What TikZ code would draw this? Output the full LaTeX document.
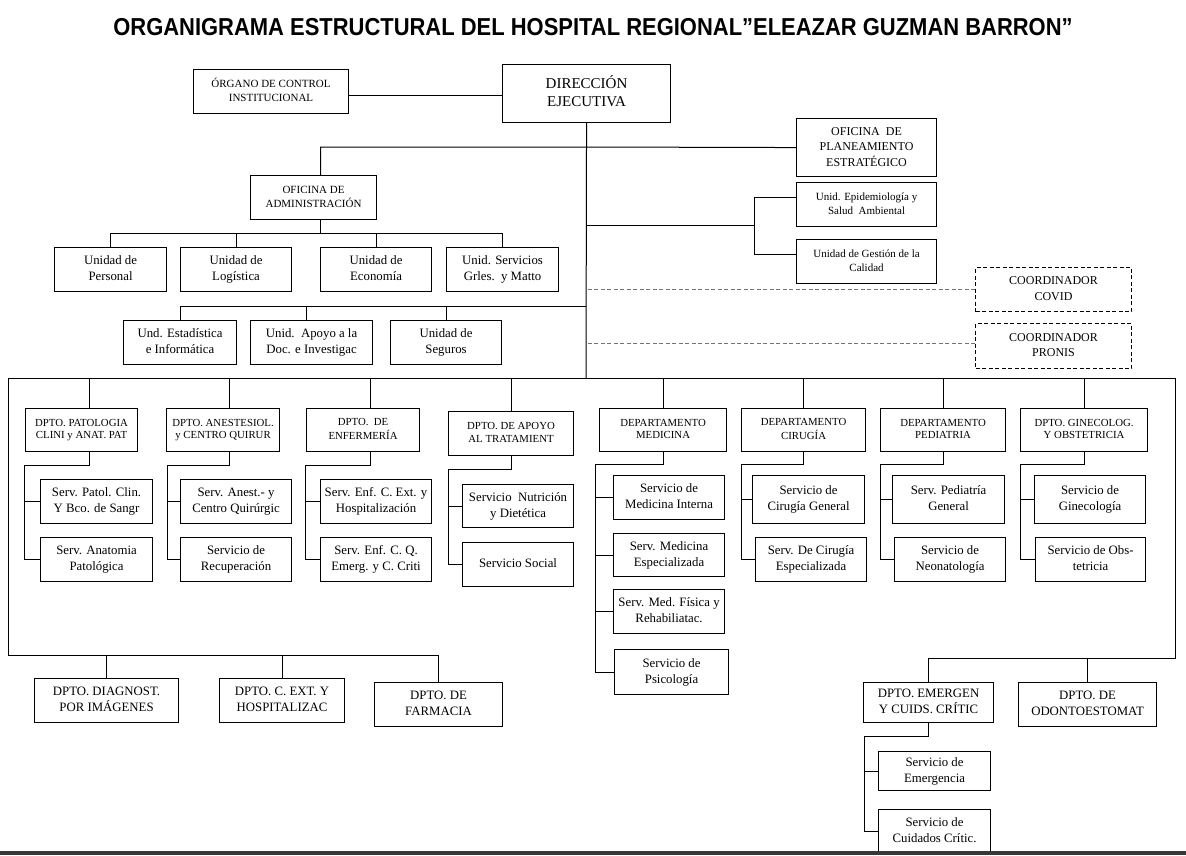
\documentclass[tikz,border=0pt]{standalone}
\usepackage{fontspec}
\setmainfont{Liberation Serif}
\newfontfamily\titlefont{Liberation Sans}
\newcommand\bx[7]{\node[box,#6,minimum width=#4pt,minimum height=#5pt] (#1) at (#2,#3) {\strut #7\strut};}
\begin{document}
\begin{tikzpicture}[x=1pt,y=-1pt,
  box/.style={draw, line width=1.1pt, inner sep=1pt, align=center, anchor=north west},
  dbox/.style={dash pattern=on 4pt off 2.5pt},
  ln/.style={line width=1pt},
  dl/.style={line width=1pt, black!55, dash pattern=on 4pt off 2.5pt},
  fA/.style={font=\fontsize{10.8}{12.5}\selectfont},
  fB/.style={font=\fontsize{11}{14}\selectfont},
  fC/.style={font=\fontsize{12.8}{16}\selectfont},
  fD/.style={font=\fontsize{12}{15.5}\selectfont},
  fE/.style={font=\fontsize{15}{17.5}\selectfont}]
\fill[white] (0,0) rectangle (1186,855);
\useasboundingbox (0,0) rectangle (1186,855);

\node[font=\titlefont\bfseries\fontsize{24.5}{29}\selectfont] (title) at (593,27) {\scalebox{0.896}[1]{ORGANIGRAMA ESTRUCTURAL DEL HOSPITAL REGIONAL”ELEAZAR GUZMAN BARRON”}};

% top
\bx{org}{193}{69}{155}{44}{fB}{ÓRGANO DE CONTROL\\INSTITUCIONAL}
\bx{dir}{502}{64}{168}{58}{fE}{DIRECCIÓN\\EJECUTIVA}
\bx{plan}{796}{118}{140}{58}{fD}{OFICINA~~DE\\PLANEAMIENTO\\ESTRATÉGICO}
\bx{epi}{796}{182}{140}{44}{fB}{Unid. Epidemiología y\\Salud~~Ambiental}
\bx{cal}{796}{239}{140}{44}{fB}{Unidad de Gestión de la\\Calidad}
\bx{covid}{975}{267}{156}{44}{fD,dbox}{COORDINADOR\\COVID}
\bx{pronis}{975}{323}{156}{45}{fD,dbox}{COORDINADOR\\PRONIS}
\bx{adm}{250}{175}{126}{44}{fB}{OFICINA DE\\ADMINISTRACIÓN}
\bx{u1}{54}{247}{112}{44}{fC}{Unidad de\\Personal}
\bx{u2}{180}{247}{111}{44}{fC}{Unidad de\\Logística}
\bx{u3}{320}{247}{111}{44}{fC}{Unidad de\\Economía}
\bx{u4}{446}{247}{112}{44}{fC}{Unid. Servicios\\Grles.~~y Matto}
\bx{e1}{123}{320}{113}{44}{fC}{Und. Estadística\\e Informática}
\bx{e2}{250}{320}{122}{44}{fC}{Unid.~~Apoyo a la\\Doc. e Investigac}
\bx{e3}{390}{320}{111}{44}{fC}{Unidad de\\Seguros}

% departments
\bx{d1}{25}{408}{112}{43}{fA}{DPTO. PATOLOGIA\\CLINI y ANAT. PAT}
\bx{d2}{166}{408}{113}{43}{fA}{DPTO. ANESTESIOL.\\y CENTRO QUIRUR}
\bx{d3}{306}{408}{113}{43}{fA}{DPTO.~~DE\\ENFERMERÍA}
\bx{d4}{448}{411}{125}{44}{fA}{DPTO. DE APOYO\\AL TRATAMIENT}
\bx{d5}{599}{408}{127}{43}{fA}{DEPARTAMENTO\\MEDICINA}
\bx{d6}{741}{408}{124}{43}{fA}{DEPARTAMENTO\\CIRUGÍA}
\bx{d7}{880}{408}{125}{43}{fA}{DEPARTAMENTO\\PEDIATRIA}
\bx{d8}{1020}{408}{127}{43}{fA}{DPTO. GINECOLOG.\\Y OBSTETRICIA}

% services
\bx{s11}{40}{479}{112}{44}{fC}{Serv. Patol. Clin.\\Y Bco. de Sangr}
\bx{s12}{40}{537}{112}{44}{fC}{Serv. Anatomia\\Patológica}
\bx{s21}{180}{479}{111}{44}{fC}{Serv. Anest.- y\\Centro Quirúrgic}
\bx{s22}{180}{537}{111}{44}{fC}{Servicio de\\Recuperación}
\bx{s31}{320}{479}{111}{44}{fC}{Serv. Enf. C. Ext. y\\Hospitalización}
\bx{s32}{320}{537}{111}{44}{fC}{Serv. Enf. C. Q.\\Emerg. y C. Criti}
\bx{s41}{462}{484}{111}{43}{fC}{Servicio~~Nutrición\\y Dietética}
\bx{s42}{462}{542}{111}{44}{fC}{Servicio Social}
\bx{s51}{613}{475}{111}{44}{fC}{Servicio de\\Medicina Interna}
\bx{s52}{613}{533}{111}{43}{fC}{Serv. Medicina\\Especializada}
\bx{s53}{613}{589}{111}{44}{fC}{Serv. Med. Física y\\Rehabiliatac.}
\bx{s54}{614}{649}{114}{45}{fC}{Servicio de\\Psicología}
\bx{s61}{752}{475}{112}{48}{fC}{Servicio de\\Cirugía General}
\bx{s62}{755}{537}{111}{44}{fC}{Serv. De Cirugía\\Especializada}
\bx{s71}{892}{475}{112}{48}{fC}{Serv. Pediatría\\General}
\bx{s72}{894}{537}{111}{44}{fC}{Servicio de\\Neonatología}
\bx{s81}{1034}{475}{111}{48}{fC}{Servicio de\\Ginecología}
\bx{s82}{1035}{537}{110}{44}{fC}{Servicio de Obs-\\tetricia}

% bottom
\bx{b1}{34}{678}{144}{44}{fC}{DPTO. DIAGNOST.\\POR IMÁGENES}
\bx{b2}{219}{678}{125}{44}{fC}{DPTO. C. EXT. Y\\HOSPITALIZAC}
\bx{b3}{374}{682}{128}{44}{fC}{DPTO. DE\\FARMACIA}
\bx{b4}{863}{682}{130}{40}{fC}{DPTO. EMERGEN\\Y CUIDS. CRÍTIC}
\bx{b5}{1018}{682}{138}{44}{fC}{DPTO. DE\\ODONTOESTOMAT}
\bx{s91}{878}{751}{112}{39}{fC}{Servicio de\\Emergencia}
\bx{s92}{878}{809}{112}{44}{fC}{Servicio de\\Cuidados Crític.}

% connectors top
\draw[ln] ([yshift=-4pt]org.east) -- ([yshift=-4pt]org.east -| dir.west);
\coordinate (mvb) at (586,378);
\draw[ln] (dir.south) -- (mvb);
\coordinate (h1) at (586,147);
\draw[ln] ([xshift=7pt]adm.north) |- (h1) -- (plan.west);
\coordinate (ub) at (0,233);
\draw[ln] ([xshift=7pt]adm.south) -- ([xshift=7pt]adm.south |- ub);
\draw[ln] (u1.north) -- (u1.north |- ub) -- (u4.north |- ub) -- (u4.north);
\draw[ln] (u2.north) -- (u2.north |- ub);
\draw[ln] (u3.north) -- (u3.north |- ub);
\coordinate (eb) at (586,306);
\draw[ln] (e1.north) |- (eb);
\draw[ln] ([xshift=-5pt]e2.north) -- ([xshift=-5pt]e2.north |- eb);
\draw[ln] (e3.north) -- (e3.north |- eb);
\coordinate (h2) at (586,225);
\coordinate (brk) at (754,225);
\draw[ln] (h2) -- (brk);
\draw[ln] ([yshift=7pt]epi.west) -- ([yshift=7pt]epi.west -| brk) -- ([yshift=7pt]cal.west -| brk) -- ([yshift=7pt]cal.west);
\draw[dl] (covid.west) -- (covid.west -| mvb);
\draw[dl] ([yshift=3pt]pronis.west) -- ([yshift=3pt]pronis.west -| mvb);

% big frame
\coordinate (tl) at (8,378);
\coordinate (tr) at (1175,378);
\coordinate (bl) at (8,655);
\coordinate (bR) at (1175,658);
\draw[ln] (b3.north) -- (b3.north |- bl) -- (bl) -- (tl) -- (tr) -- (bR) -- (bR -| b4.north) -- (b4.north);
\draw[ln] (b1.north) -- (b1.north |- bl);
\draw[ln] (b2.north) -- (b2.north |- bl);
\draw[ln] (b5.north) -- (b5.north |- bR);
\draw[ln] ([xshift=8pt]d1.north) -- ([xshift=8pt]d1.north |- tl);
\draw[ln] ([xshift=6.4pt]d2.north) -- ([xshift=6.4pt]d2.north |- tl);
\draw[ln] ([xshift=7pt]d3.north) -- ([xshift=7pt]d3.north |- tl);
\foreach \d in {d4,d5,d6,d7,d8} {\draw[ln] (\d.north) -- (\d.north |- tl);}

% sub brackets
\coordinate (k1) at (24,465);
\draw[ln] ([xshift=8pt]d1.south) |- (k1) |- (s12.west);
\draw[ln] (k1 |- s11.west) -- (s11.west);
\coordinate (k2) at (167.6,465);
\draw[ln] ([xshift=6.4pt]d2.south) |- (k2) |- (s22.west);
\draw[ln] (k2 |- s21.west) -- (s21.west);
\coordinate (k3) at (305,465);
\draw[ln] ([xshift=7pt]d3.south) |- (k3) |- (s32.west);
\draw[ln] (k3 |- s31.west) -- (s31.west);
\coordinate (k4) at (448,469);
\draw[ln] (d4.south) |- (k4) |- (s42.west);
\draw[ln] (k4 |- s41.west) -- (s41.west);
\coordinate (k5) at (595,464);
\draw[ln] (d5.south) |- (k5) |- (s54.west);
\foreach \s in {s51,s52,s53} {\draw[ln] (k5 |- \s.west) -- (\s.west);}
\coordinate (k6) at (741,464);
\draw[ln] (d6.south) |- (k6) |- (s62.west);
\draw[ln] (k6 |- s61.west) -- (s61.west);
\coordinate (k7) at (880,464);
\draw[ln] (d7.south) |- (k7) |- (s72.west);
\draw[ln] (k7 |- s71.west) -- (s71.west);
\coordinate (k8) at (1020,464);
\draw[ln] (d8.south) |- (k8) |- (s82.west);
\draw[ln] (k8 |- s81.west) -- (s81.west);
\coordinate (k9) at (864,736);
\draw[ln] (b4.south) |- (k9) |- (s92.west);
\draw[ln] (k9 |- s91.west) -- (s91.west);

% bottom bar
\fill[black!78] (0,851) rectangle (1186,855);
\end{tikzpicture}
\end{document}
